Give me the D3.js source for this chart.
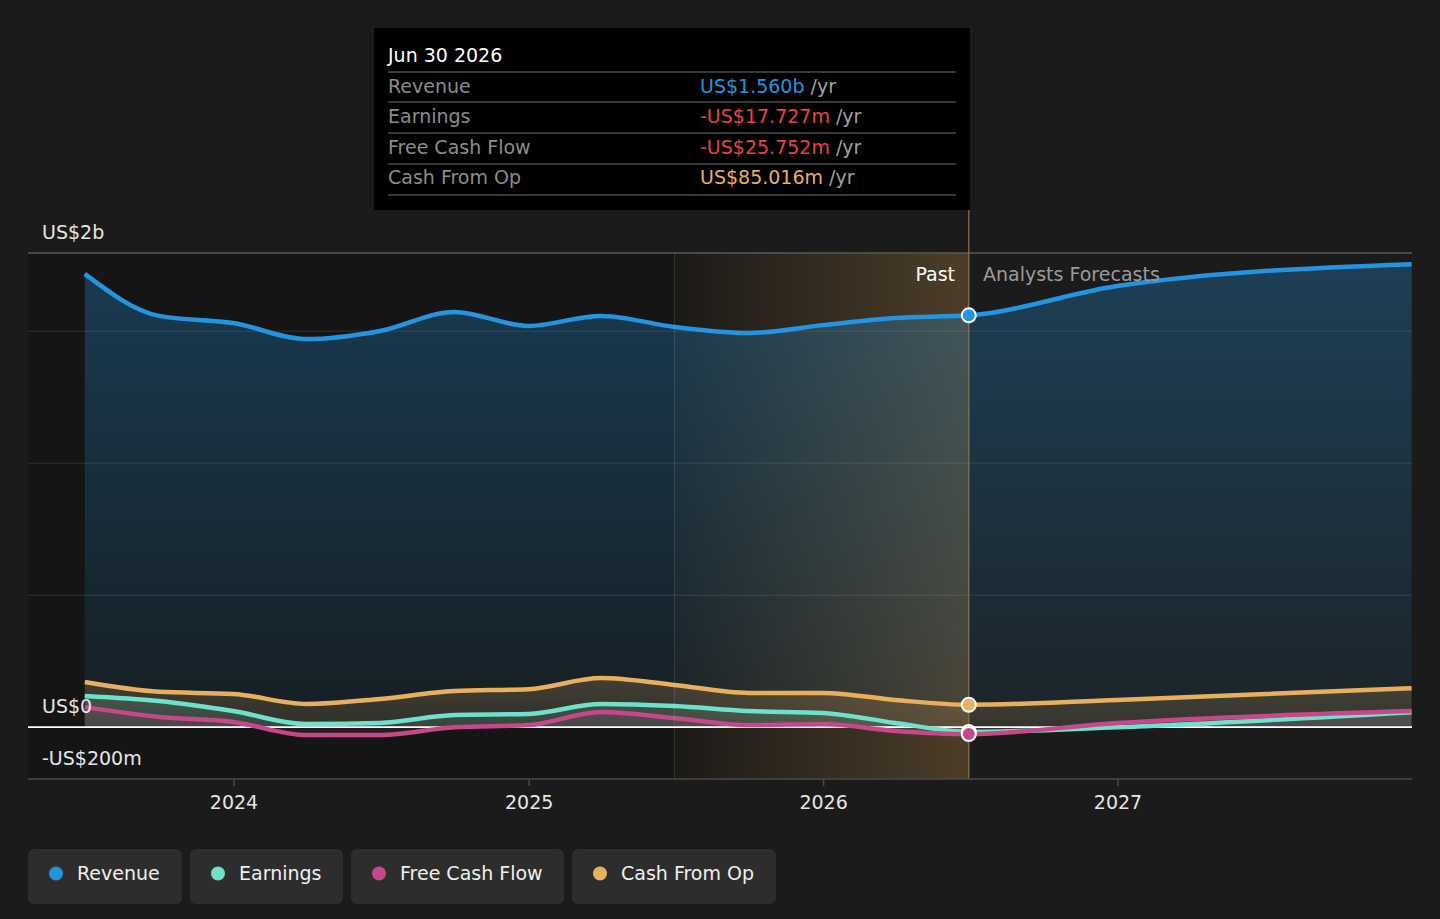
<!DOCTYPE html>
<html>
<head>
<meta charset="utf-8">
<script src="https://cdn.jsdelivr.net/npm/d3@7"></script>
<style>
  html, body { margin: 0; padding: 0; background: #1b1b1b; }
  svg { display: block; font-family: "DejaVu Sans", sans-serif; }
</style>
</head>
<body>
<svg id="chart" width="1440" height="919"></svg>
<script>
// past data, quarterly (US$ m)
var pastDates = ["2023-06-30","2023-09-30","2023-12-31","2024-03-31","2024-06-30","2024-09-30",
  "2024-12-31","2025-03-31","2025-06-30","2025-09-30","2025-12-31","2026-03-31","2026-06-30"];
var revenuePast  = [1717, 1558, 1531, 1470, 1501, 1573, 1520, 1558, 1516, 1493, 1523, 1550, 1560];
var earningsPast = [118, 99, 61, 12, 16, 46, 50, 88, 80, 61, 54, 16, -17.727];
var fcfPast      = [76, 39, 20, -30, -30, 0, 8, 58, 35, 8, 12, -14, -25.752];
var cfoPast      = [171, 134, 126, 88, 107, 137, 144, 186, 160, 130, 130, 103, 85.016];

// analysts forecasts
var fcDates = ["2026-06-30","2026-12-31","2027-12-31"];
var revenueFc  = [1560, 1671, 1754];
var earningsFc = [-17.727, 0, 57];
var fcfFc      = [-25.752, 16, 61];
var cfoFc      = [85.016, 103, 148];

var yTicks = [0, 500, 1000, 1500];
var xTickYears = [2024, 2025, 2026, 2027];
var seriesNames = ["Revenue", "Earnings", "Free Cash Flow", "Cash From Op"];
var colors = ["#2394df", "#6fe0c9", "#c4488a", "#e8b05e"];

var parse = d3.utcParse("%Y-%m-%d");
var svg = d3.select("#chart");

var x = d3.scaleUtc()
  .domain([Date.UTC(2024,0,1), Date.UTC(2027,0,1)])
  .range([234, 1118]);
var y = d3.scaleLinear().domain([-200, 1800]).range([780, 252]);

var plotL = 28, plotR = 1412, plotT = 253, plotB = 779;
var splitStart = x(parse("2025-06-30"));
var nowX = x(parse("2026-06-30"));

var defs = svg.append("defs");
var hl = defs.append("linearGradient").attr("id", "hl").attr("x1", 0).attr("x2", 1).attr("y1", 0).attr("y2", 0);
hl.append("stop").attr("offset", "0%").attr("stop-color", "#e8b05e").attr("stop-opacity", 0.03);
hl.append("stop").attr("offset", "100%").attr("stop-color", "#e8b05e").attr("stop-opacity", 0.26);

// past background + highlight
svg.append("rect").attr("x", plotL).attr("y", plotT).attr("width", nowX - plotL).attr("height", plotB - plotT)
  .attr("fill", "#151515");
svg.append("rect").attr("x", splitStart).attr("y", plotT).attr("width", nowX - splitStart).attr("height", plotB - plotT)
  .attr("fill", "url(#hl)");

// grid
svg.selectAll(".grid").data(yTicks.slice(1)).enter().append("line")
  .attr("x1", plotL).attr("x2", plotR)
  .attr("y1", function(d){ return y(d); }).attr("y2", function(d){ return y(d); })
  .attr("stroke", "#ffffff").attr("stroke-opacity", 0.12).attr("stroke-width", 1);
svg.append("line").attr("x1", plotL).attr("x2", plotR).attr("y1", plotT).attr("y2", plotT)
  .attr("stroke", "#5a5a5a").attr("stroke-width", 1.5);

function pts(dates, vals) {
  return dates.map(function(d, i){ return { date: parse(d), v: vals[i] }; });
}

var series = [
  { past: pts(pastDates, revenuePast), fc: pts(fcDates, revenueFc) },
  { past: pts(pastDates, earningsPast), fc: pts(fcDates, earningsFc) },
  { past: pts(pastDates, fcfPast), fc: pts(fcDates, fcfFc) },
  { past: pts(pastDates, cfoPast), fc: pts(fcDates, cfoFc) }
];

var line = d3.line().curve(d3.curveMonotoneX)
  .x(function(d){ return x(d.date); }).y(function(d){ return y(d.v); });
var area = d3.area().curve(d3.curveMonotoneX)
  .x(function(d){ return x(d.date); }).y0(y(0)).y1(function(d){ return y(d.v); });

// area gradients
colors.forEach(function(c, i) {
  var g = defs.append("linearGradient").attr("id", "ag" + i)
    .attr("gradientUnits", "userSpaceOnUse").attr("x1", 0).attr("x2", 0)
    .attr("y1", i === 0 ? 260 : 670).attr("y2", y(0));
  g.append("stop").attr("offset", "0%").attr("stop-color", c).attr("stop-opacity", i === 0 ? 0.3 : 0.22);
  g.append("stop").attr("offset", "100%").attr("stop-color", c).attr("stop-opacity", i === 0 ? 0.07 : 0.12);
});

var order = [0, 3, 1, 2];
order.forEach(function(i) {
  var s = series[i];
  var all = s.past.concat(s.fc.slice(1));
  svg.append("path").datum(all).attr("d", area).attr("fill", "url(#ag" + i + ")");
});

// zero line
svg.append("line").attr("x1", plotL).attr("x2", plotR).attr("y1", y(0)).attr("y2", y(0))
  .attr("stroke", "#ffffff").attr("stroke-width", 1.8);

order.forEach(function(i) {
  var s = series[i];
  var all = s.past.concat(s.fc.slice(1));
  svg.append("path").datum(all).attr("d", line)
    .attr("fill", "none").attr("stroke", colors[i]).attr("stroke-width", 4.5)
    .attr("stroke-linejoin", "round");
});

// vertical markers
svg.append("line").attr("x1", splitStart).attr("x2", splitStart).attr("y1", plotT).attr("y2", plotB)
  .attr("stroke", "#ffffff").attr("stroke-opacity", 0.12);
svg.append("line").attr("x1", nowX).attr("x2", nowX).attr("y1", 210).attr("y2", plotB)
  .attr("stroke", "#8a7650").attr("stroke-width", 1.2);

// x axis
svg.append("line").attr("x1", plotL).attr("x2", plotR).attr("y1", plotB).attr("y2", plotB)
  .attr("stroke", "#4a4a4a").attr("stroke-width", 1.5);
var xAxis = svg.append("g");
xTickYears.forEach(function(yr) {
  var px = x(Date.UTC(yr, 0, 1));
  xAxis.append("line").attr("x1", px).attr("x2", px).attr("y1", plotB).attr("y2", plotB + 7)
    .attr("stroke", "#4a4a4a").attr("stroke-width", 1.5);
  xAxis.append("text").attr("x", px).attr("y", 802).attr("dy", "0.35em")
    .attr("text-anchor", "middle").attr("fill", "#e6e6e6").attr("font-size", 19).text(yr);
});

// y labels
var yLabels = [{ t: "US$2b", y: 232 }, { t: "US$0", y: 706 }, { t: "-US$200m", y: 758 }];
svg.selectAll(".ylab").data(yLabels).enter().append("text")
  .attr("x", 42).attr("y", function(d){ return d.y; }).attr("dy", "0.35em")
  .attr("fill", "#e6e6e6").attr("font-size", 19).text(function(d){ return d.t; });

svg.append("text").attr("x", 955).attr("y", 274).attr("dy", "0.35em").attr("text-anchor", "end")
  .attr("fill", "#ffffff").attr("font-size", 19).text("Past");
svg.append("text").attr("x", 983).attr("y", 274).attr("dy", "0.35em")
  .attr("fill", "#9a9a9a").attr("font-size", 19).text("Analysts Forecasts");

// markers at now
var nowVals = [revenuePast, earningsPast, fcfPast, cfoPast].map(function(a){ return a[a.length - 1]; });
[1, 2, 3, 0].forEach(function(i) {
  svg.append("circle").attr("cx", nowX).attr("cy", y(nowVals[i])).attr("r", 7)
    .attr("fill", colors[i]).attr("stroke", "#ffffff").attr("stroke-width", 2);
});

// tooltip
var tip = svg.append("g");
tip.append("rect").attr("x", 374).attr("y", 28).attr("width", 596).attr("height", 182).attr("fill", "#000");
tip.append("text").attr("x", 388).attr("y", 55).attr("dy", "0.35em").attr("fill", "#fff")
  .attr("font-size", 19).text("Jun 30 2026");
function fmt(v) {
  var sign = v < 0 ? "-" : "";
  var a = Math.abs(v);
  return a >= 1000 ? sign + "US$" + (a / 1000).toFixed(3) + "b" : sign + "US$" + a.toFixed(3) + "m";
}
var rowY = [86, 116, 147, 177];
var sepY = [72, 102, 133, 164, 195];
sepY.forEach(function(sy) {
  tip.append("line").attr("x1", 388).attr("x2", 956).attr("y1", sy).attr("y2", sy)
    .attr("stroke", "#4a4a4a").attr("stroke-width", 1.5);
});
seriesNames.forEach(function(n, i) {
  tip.append("text").attr("x", 388).attr("y", rowY[i]).attr("dy", "0.35em")
    .attr("fill", "#8c8c8c").attr("font-size", 19).text(n);
  var t = tip.append("text").attr("x", 700).attr("y", rowY[i]).attr("dy", "0.35em").attr("font-size", 19);
  var v = nowVals[i];
  var c = i === 0 ? colors[0] : (v < 0 ? "#e64545" : colors[3]);
  t.append("tspan").attr("fill", c).text(fmt(v));
  t.append("tspan").attr("fill", "#a0a0a0").text(" /yr");
});

// legend
var legX = [28, 190, 351, 572];
var legW = [154, 153, 213, 204];
seriesNames.forEach(function(n, i) {
  var g = svg.append("g").attr("transform", "translate(" + legX[i] + ",849)");
  g.append("rect").attr("width", legW[i]).attr("height", 55).attr("rx", 6).attr("fill", "#2d2d2d");
  g.append("circle").attr("cx", 28).attr("cy", 24.5).attr("r", 7).attr("fill", colors[i]);
  g.append("text").attr("x", 49).attr("y", 24.5).attr("dy", "0.35em").attr("fill", "#f0f0f0")
    .attr("font-size", 19).text(n);
});
</script>
</body>
</html>
